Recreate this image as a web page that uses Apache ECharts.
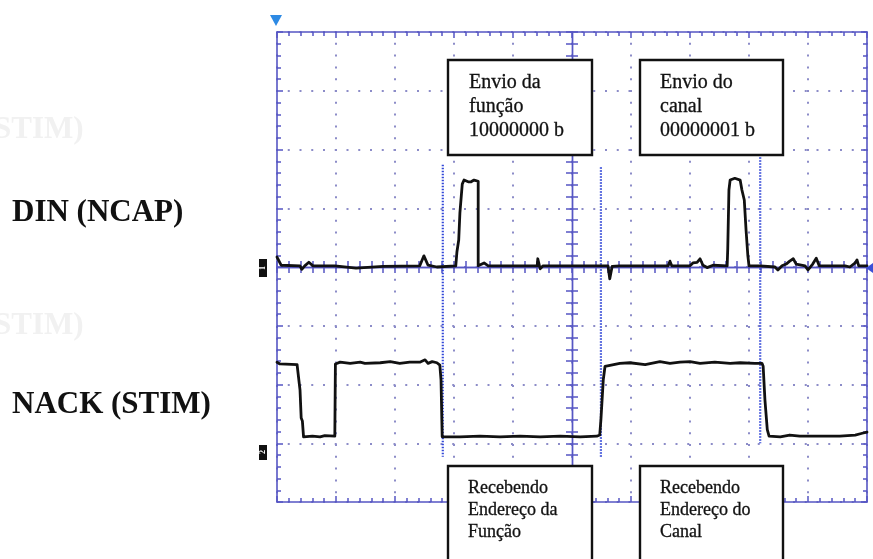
<!DOCTYPE html>
<html>
<head>
<meta charset="utf-8">
<script src="https://cdn.jsdelivr.net/npm/echarts@6.0.0/dist/echarts.min.js"></script>
<style>
  html, body { margin: 0; padding: 0; background: #ffffff; }
  #chart { width: 873px; height: 559px; }
</style>
</head>
<body>
<div id="chart"></div>
<script>
// Oscilloscope capture of the serial handshake: DIN (NCAP) on channel 1 and
// NACK (STIM) on channel 2. X is in horizontal divisions from screen centre,
// Y in vertical divisions from the centre line.

const dinTrace = [
  [-5.00, 0.17], [-4.93, 0.03], [-4.61, 0.02], [-4.58, -0.04], [-4.53, 0.02], [-4.46, 0.08],
  [-4.39, 0.02], [-4.02, 0.02], [-3.66, -0.02], [-3.20, 0.01], [-2.58, 0.02], [-2.51, 0.19],
  [-2.44, 0.03], [-2.29, 0.00], [-1.97, 0.02], [-1.95, 0.26], [-1.92, 0.46], [-1.90, 0.92],
  [-1.86, 1.41], [-1.83, 1.48], [-1.76, 1.45], [-1.71, 1.45], [-1.66, 1.48], [-1.59, 1.46],
  [-1.59, 0.02], [-1.49, 0.07], [-1.42, 0.02], [-0.59, 0.02], [-0.58, 0.14], [-0.54, -0.03],
  [-0.49, 0.02], [0.47, 0.02], [0.61, 0.02], [0.64, -0.20], [0.68, 0.01], [0.81, 0.02],
  [1.63, 0.02], [1.66, 0.10], [1.69, 0.02], [2.00, 0.02], [2.05, 0.07], [2.12, 0.08],
  [2.17, 0.14], [2.22, 0.03], [2.29, -0.01], [2.39, 0.03], [2.63, 0.02], [2.64, 0.32],
  [2.66, 1.31], [2.68, 1.48], [2.76, 1.51], [2.85, 1.48], [2.88, 1.31], [2.92, 1.14],
  [2.95, 0.63], [2.98, 0.20], [3.00, 0.02], [3.19, 0.02], [3.22, 0.05], [3.44, 0.00],
  [3.49, -0.05], [3.56, 0.02], [3.63, 0.05], [3.69, 0.10], [3.75, 0.14], [3.80, 0.05],
  [3.95, 0.02], [4.00, -0.05], [4.08, 0.05], [4.14, 0.15], [4.19, 0.02], [4.63, 0.02],
  [4.71, 0.00], [4.80, 0.07], [4.83, 0.12], [4.86, 0.02], [5.00, 0.02]
];

const nackTrace = [
  [-5.00, -1.62], [-4.98, -1.60], [-4.95, -1.65], [-4.66, -1.66], [-4.63, -1.69], [-4.61, -2.09],
  [-4.59, -2.57], [-4.57, -2.62], [-4.55, -2.89], [-4.40, -2.88], [-4.27, -2.89], [-4.19, -2.87],
  [-4.02, -2.88], [-4.01, -1.65], [-3.93, -1.62], [-3.76, -1.64], [-3.59, -1.62], [-3.51, -1.64],
  [-3.25, -1.63], [-3.08, -1.61], [-2.92, -1.64], [-2.75, -1.62], [-2.58, -1.62], [-2.49, -1.58],
  [-2.44, -1.64], [-2.37, -1.61], [-2.29, -1.63], [-2.24, -1.67], [-2.22, -1.92], [-2.20, -2.89],
  [-1.90, -2.89], [-1.56, -2.88], [-1.22, -2.89], [-0.88, -2.88], [-0.54, -2.89], [-0.20, -2.88],
  [0.14, -2.89], [0.42, -2.88], [0.47, -2.86], [0.49, -2.60], [0.53, -1.92], [0.56, -1.69],
  [0.59, -1.66], [0.81, -1.64], [0.98, -1.63], [1.24, -1.66], [1.49, -1.61], [1.66, -1.64],
  [1.83, -1.62], [2.00, -1.61], [2.17, -1.64], [2.42, -1.62], [2.68, -1.64], [2.85, -1.63],
  [3.10, -1.64], [3.22, -1.64], [3.24, -1.69], [3.27, -2.26], [3.31, -2.77], [3.34, -2.88],
  [3.53, -2.89], [3.69, -2.86], [3.86, -2.88], [4.20, -2.88], [4.54, -2.88], [4.80, -2.86],
  [4.92, -2.83], [5.00, -2.81]
];

// Dotted time cursors
const cursorX = [-2.19, 0.49, 3.19];
const cursorTop = [1.74, 1.70, 1.87];
const cursorBottom = [-3.23, -3.23, -3.00];

const channelLabels = ['DIN (NCAP)', 'NACK (STIM)'];
const topNotes = [['Envio da', 'função', '10000000 b'], ['Envio do', 'canal', '00000001 b']];
const bottomNotes = [['Recebendo', 'Endereço da', 'Função'], ['Recebendo', 'Endereço do', 'Canal']];
const showThrough = ['STIM)', 'STIM)'];

const GRID_BLUE = '#5656c4';
const DOT_BLUE = '#8c8cc8';
const SERIF = '"Liberation Serif", "DejaVu Serif", serif';

const rect = { left: 277, top: 32, width: 590, height: 470 };

// Border axes: ticks pointing into the screen, fixed at the frame edges
function frameAxis(gridIndex, position, min, max, split, dash) {
  return {
    type: 'value', gridIndex, position, min, max, interval: 1,
    axisLabel: { show: false },
    axisLine: { show: true, onZero: false, lineStyle: { color: GRID_BLUE, width: 1.6 } },
    axisTick: { show: true, inside: true, length: 6, lineStyle: { color: GRID_BLUE, width: 1.5 } },
    minorTick: { show: true, splitNumber: 5, length: 4, lineStyle: { color: GRID_BLUE, width: 1.5 } },
    splitLine: { show: split, lineStyle: { color: DOT_BLUE, width: 2, type: dash, dashOffset: 1 } },
    minorSplitLine: { show: false }
  };
}

// Centre graticule axes: sit on zero, ticks on both sides via a pair of axes
function centreAxis(gridIndex, position, min, max, zeroIndex) {
  return {
    type: 'value', gridIndex, position, min, max, interval: 1,
    axisLabel: { show: false },
    axisLine: { show: true, onZero: true, onZeroAxisIndex: zeroIndex, lineStyle: { color: GRID_BLUE, width: 1.4 } },
    axisTick: { show: true, inside: true, length: 6, lineStyle: { color: GRID_BLUE, width: 1.5 } },
    minorTick: { show: true, splitNumber: 5, length: 6, lineStyle: { color: GRID_BLUE, width: 1.5 } },
    splitLine: { show: false },
    minorSplitLine: { show: false }
  };
}

const chart = echarts.init(document.getElementById('chart'), null, { renderer: 'canvas' });

const noteBoxes = [];
function addNote(x, y, w, h, lines, tx, ty, size, lh) {
  noteBoxes.push({
    type: 'rect', z: 100,
    shape: { x, y, width: w, height: h },
    style: { fill: '#ffffff', stroke: '#111111', lineWidth: 2.4 }
  });
  noteBoxes.push({
    type: 'text', z: 101, x: tx, y: ty,
    style: { text: lines.join('\n'), font: size + 'px ' + SERIF, lineHeight: lh, fill: '#111111',
             stroke: '#111111', lineWidth: 0.3 }
  });
}
addNote(448, 60, 144, 95, topNotes[0], 469, 71, 20, 24);
addNote(640, 60, 143, 95, topNotes[1], 660, 71, 20, 24);
addNote(448, 466, 144, 120, bottomNotes[0], 468, 477, 18, 22);
addNote(640, 466, 143, 120, bottomNotes[1], 660, 477, 18, 22);

chart.setOption({
  animation: false,
  backgroundColor: '#ffffff',
  grid: [
    Object.assign({ show: false }, rect),
    Object.assign({ show: false }, rect)
  ],
  xAxis: [
    frameAxis(0, 'top', -5, 5, true, [2, 9.8]),
    frameAxis(0, 'bottom', -5, 5, false, 'solid'),
    centreAxis(1, 'top', -5, 5, 2),
    centreAxis(1, 'bottom', -5, 5, 2)
  ],
  yAxis: [
    frameAxis(0, 'left', -4, 4, true, [2, 9.75]),
    frameAxis(0, 'right', -4, 4, false, 'solid'),
    centreAxis(1, 'left', -4, 4, 2),
    centreAxis(1, 'right', -4, 4, 2)
  ],
  series: [
    {
      name: channelLabels[0], type: 'line', xAxisIndex: 0, yAxisIndex: 0,
      data: dinTrace, showSymbol: false, z: 10,
      lineStyle: { color: '#111111', width: 2.8, join: 'round', cap: 'round' }
    },
    {
      name: channelLabels[1], type: 'line', xAxisIndex: 0, yAxisIndex: 0,
      data: nackTrace, showSymbol: false, z: 10,
      lineStyle: { color: '#111111', width: 2.8, join: 'round', cap: 'round' }
    }
  ].concat(cursorX.map((x, i) => ({
    name: 'cursor' + (i + 1), type: 'line', xAxisIndex: 0, yAxisIndex: 0,
    data: [[x, cursorTop[i]], [x, cursorBottom[i]]], showSymbol: false, z: 6,
    lineStyle: { color: '#3348d8', width: 2.2, type: [1.5, 1.5] }
  }))),
  graphic: [
    // faint show-through from the facing page
    {
      type: 'text', x: -6, y: 130,
      style: { text: showThrough[0], font: 'bold 31px ' + SERIF, fill: '#f1f1f1', verticalAlign: 'middle' }
    },
    {
      type: 'text', x: -6, y: 326,
      style: { text: showThrough[1], font: 'bold 31px ' + SERIF, fill: '#f1f1f1', verticalAlign: 'middle' }
    },
    {
      type: 'text', x: 12, y: 213,
      style: { text: channelLabels[0], font: 'bold 31px ' + SERIF, fill: '#111111', verticalAlign: 'middle' }
    },
    {
      type: 'text', x: 12, y: 405,
      style: { text: channelLabels[1], font: 'bold 31px ' + SERIF, fill: '#111111', verticalAlign: 'middle' }
    },
    // trigger position marker
    {
      type: 'polygon', z: 50,
      shape: { points: [[270, 15], [282, 15], [276, 26]] },
      style: { fill: '#2d8ae4' }
    },
    // trigger level marker
    {
      type: 'polygon', z: 50,
      shape: { points: [[866, 268], [873, 263], [873, 273]] },
      style: { fill: '#3b4fd6' }
    },
    // channel ground markers
    { type: 'rect', z: 50, shape: { x: 259, y: 259, width: 8, height: 18 }, style: { fill: '#111111' } },
    { type: 'text', z: 51, x: 263, y: 268, rotation: Math.PI / 2,
      style: { text: '1', font: 'bold 8px ' + SERIF, fill: '#ffffff', align: 'center', verticalAlign: 'middle' } },
    { type: 'rect', z: 50, shape: { x: 259, y: 445, width: 8, height: 15 }, style: { fill: '#111111' } },
    { type: 'text', z: 51, x: 263, y: 452, rotation: Math.PI / 2,
      style: { text: '2', font: 'bold 8px ' + SERIF, fill: '#ffffff', align: 'center', verticalAlign: 'middle' } }
  ].concat(noteBoxes)
});
</script>
</body>
</html>
